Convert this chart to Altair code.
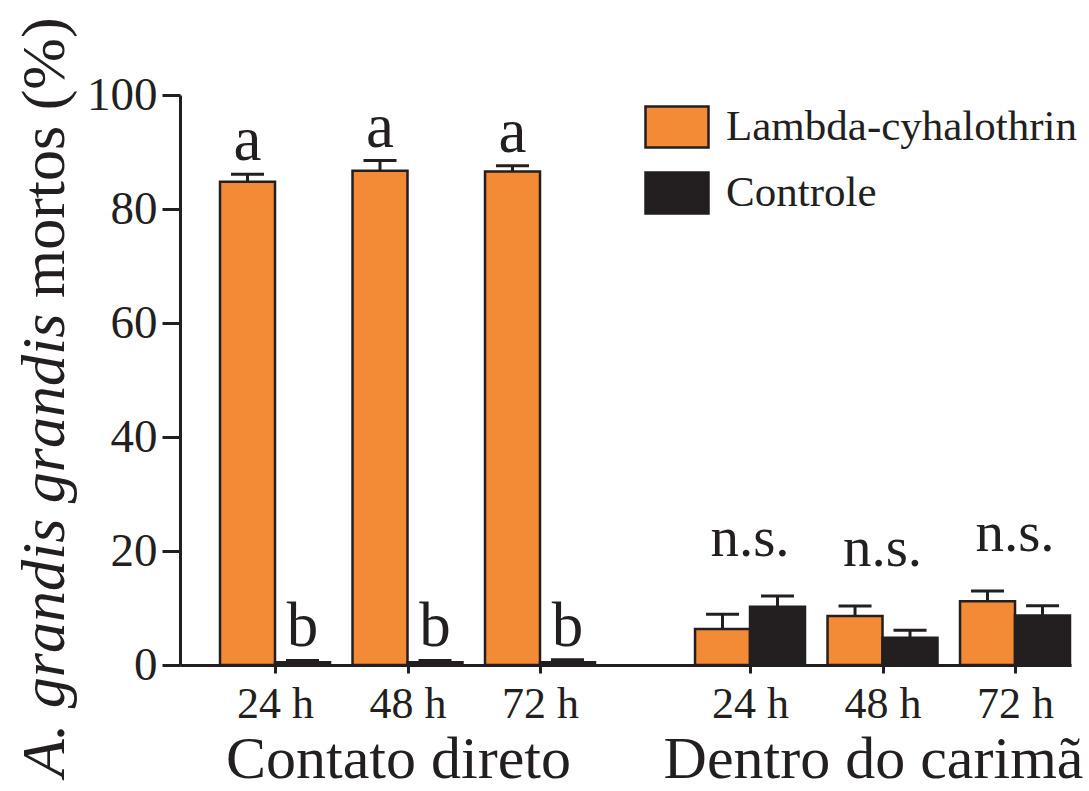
import altair as alt
import pandas as pd

# Categories
groups = ["Contato direto", "Dentro do carimã"]
times = ["24 h", "48 h", "72 h"]
series = ["Lambda-cyhalothrin", "Controle"]
colors = ["#F28A36", "#231F20"]
ink = "#231F20"

# Mean mortality (%) and standard error, one value per time
contato_lambda = [84.8, 86.7, 86.6]
contato_lambda_se = [1.3, 1.8, 1.0]
contato_controle = [0.5, 0.5, 0.5]
contato_controle_se = [0.3, 0.3, 0.4]

carima_lambda = [6.3, 8.6, 11.2]
carima_lambda_se = [2.6, 1.75, 1.8]
carima_controle = [10.2, 4.8, 8.7]
carima_controle_se = [1.9, 1.3, 1.7]

# Significance letters
contato_letters_lambda = ["a", "a", "a"]
contato_letters_controle = ["b", "b", "b"]
carima_letters = ["n.s.", "n.s.", "n.s."]

FONT = "Liberation Serif"

# Layout of the categorical axis: one unit per time slot, a wider gap between groups
GROUP_SHIFT = 3.585      # distance between first slots of the two groups
HALF = 0.415             # width of one bar (slot units)
X_DOMAIN = [-0.717, 6.0075]

rows, ns_rows = [], []
for gi, (g, lam, lam_se, ctl, ctl_se, let_l, let_c) in enumerate([
    (groups[0], contato_lambda, contato_lambda_se, contato_controle, contato_controle_se,
     contato_letters_lambda, contato_letters_controle),
    (groups[1], carima_lambda, carima_lambda_se, carima_controle, carima_controle_se,
     carima_letters, carima_letters),
]):
    for ti, t in enumerate(times):
        slot = gi * GROUP_SHIFT + ti
        for si, (m, e, lab) in enumerate([(lam[ti], lam_se[ti], let_l[ti]),
                                          (ctl[ti], ctl_se[ti], let_c[ti])]):
            x0 = slot + (si - 1) * HALF
            rows.append(dict(group=g, time=t, series=series[si], mean=m, se=e, top=m + e,
                             label=lab, x0=x0, x1=x0 + HALF, xc=x0 + HALF / 2))
        if gi == 1:
            ns_rows.append(dict(slot=slot, label=let_l[ti],
                                top=max(lam[ti] + lam_se[ti], ctl[ti] + ctl_se[ti])))
df = pd.DataFrame(rows)
ns_df = pd.DataFrame(ns_rows)
slots = [gi * GROUP_SHIFT + ti for gi in range(len(groups)) for ti in range(len(times))]
group_df = pd.DataFrame({"group": groups,
                         "center": [gi * GROUP_SHIFT + 1 for gi in range(len(groups))]})
title_df = pd.DataFrame({"part": ["A. grandis grandis", "mortos (%)"]})

label_expr = (
    "[" + ",".join(f"'{t}'" for t in times) + "]"
    f"[round(datum.value >= {GROUP_SHIFT - 0.5} ? datum.value - {GROUP_SHIFT} : datum.value)]"
)

x_scale = alt.Scale(domain=X_DOMAIN, nice=False, zero=False)
y_scale = alt.Scale(domain=[0, 100], nice=False)

x_axis = alt.Axis(
    values=slots, labelExpr=label_expr, title=None, grid=False,
    labelFont=FONT, labelFontSize=44, labelColor=ink, labelPadding=9, labelFlush=False,
    labelOverlap=False, tickSize=8, tickWidth=3, tickColor=ink,
    domainWidth=3, domainColor=ink,
)
y_axis = alt.Axis(
    values=[0, 20, 40, 60, 80, 100], title=None, grid=False,
    labelFont=FONT, labelFontSize=47, labelColor=ink, labelPadding=5,
    tickSize=18, tickWidth=3, tickColor=ink, domainWidth=3, domainColor=ink,
)

color = alt.Color(
    "series:N",
    sort=series,
    scale=alt.Scale(domain=series, range=colors),
    legend=alt.Legend(
        orient="none", legendX=464, legendY=-1, title=None,
        symbolType="M-1,-0.65H1V0.65H-1Z", symbolSize=3969,
        symbolStrokeColor=ink, symbolStrokeWidth=2.5, symbolOpacity=1,
        labelFont=FONT, labelFontSize=43, labelColor=ink, labelOffset=16,
        rowPadding=7, labelLimit=600,
    ),
)

base = alt.Chart(df)

bars = base.mark_bar(stroke=ink, strokeWidth=2.5).encode(
    x=alt.X("x0:Q", scale=x_scale, axis=x_axis),
    x2="x1:Q",
    y=alt.Y("mean:Q", scale=y_scale, axis=y_axis),
    y2=alt.datum(0),
    color=color,
)
stems = base.mark_rule(color=ink, strokeWidth=3).encode(
    x=alt.X("xc:Q", scale=x_scale), y=alt.Y("mean:Q", scale=y_scale), y2="top:Q",
)
caps = base.mark_tick(color=ink, orient="horizontal", size=33, thickness=3, opacity=1).encode(
    x=alt.X("xc:Q", scale=x_scale), y=alt.Y("top:Q", scale=y_scale),
)
letters = base.transform_filter(alt.datum.group == groups[0]).mark_text(
    font=FONT, fontSize=63, color=ink, dy=-14, baseline="alphabetic"
).encode(
    x=alt.X("xc:Q", scale=x_scale), y=alt.Y("top:Q", scale=y_scale), text="label:N",
)
ns = alt.Chart(ns_df).mark_text(
    font=FONT, fontSize=57, color=ink, dy=-40, baseline="alphabetic"
).encode(
    x=alt.X("slot:Q", scale=x_scale), y=alt.Y("top:Q", scale=y_scale), text="label:N",
)
group_titles = alt.Chart(group_df).mark_text(
    font=FONT, fontSize=60, color=ink, baseline="alphabetic", dx=-9, y=683
).encode(
    x=alt.X("center:Q", scale=x_scale), text="group:N",
)
# y-axis title: species name in italics followed by the regular part
ytitle_a = alt.Chart(title_df).transform_filter(
    alt.datum.part == "A. grandis grandis"
).mark_text(font=FONT, fontSize=62, fontStyle="italic", color=ink,
            angle=270, align="left", baseline="middle", x=-135, y=682).encode(text="part:N")
ytitle_b = alt.Chart(title_df).transform_filter(
    alt.datum.part == "mortos (%)"
).mark_text(font=FONT, fontSize=62, color=ink,
            angle=270, align="left", baseline="middle", x=-135, y=203).encode(text="part:N")

chart = alt.layer(
    stems, caps, bars, letters, ns, group_titles, ytitle_a, ytitle_b
).properties(
    width=891, height=570,
    autosize=alt.AutoSizeParams(type="none"),
    padding={"left": 180, "top": 95, "right": 18, "bottom": 126},
    background="white",
).configure_view(stroke=None)

chart.save("out.html", embed_options={"renderer": "svg", "actions": False})
